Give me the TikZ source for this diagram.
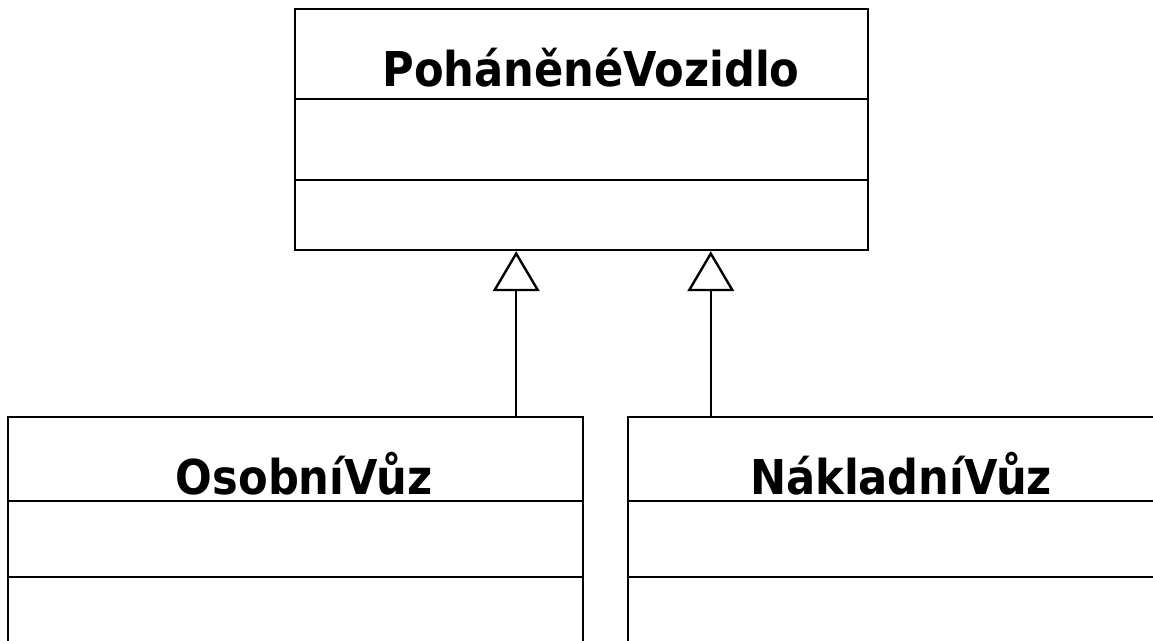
\documentclass[tikz,border=0pt]{standalone}
\usepackage{fontspec}
\setmainfont{DejaVu Sans Condensed}
\usetikzlibrary{arrows.meta,calc}

\tikzset{
  classbox/.style={draw, line width=1.8pt, inner sep=0pt},
  divider/.style={line width=1.8pt},
  classname/.style={font=\bfseries\fontsize{36}{40}\selectfont, anchor=base, inner sep=0pt},
  inherits/.style={line width=1.8pt, -{Triangle[length=30pt, width=35pt, fill=white]}},
}

\begin{document}
\begin{tikzpicture}[x=0.75pt, y=-0.75pt]
  \clip (0,0) rectangle (1153,641);
  % superclass
  \node[classbox, minimum width=429.75pt, minimum height=180.75pt] (vozidlo) at (581.5,129.5) {};
  \node[classname] (vozidloname) at (591,87) {PoháněnéVozidlo};
  \draw[divider] ($(vozidlo.north west)+(0,91)$) -- ($(vozidlo.north east)+(0,91)$);
  \draw[divider] ($(vozidlo.north west)+(0,172)$) -- ($(vozidlo.north east)+(0,172)$);
  % subclasses
  \node[classbox, minimum width=431.25pt, minimum height=180.75pt] (osobni) at (295.5,537.5) {};
  \node[classname] (osobniname) at (304,494) {OsobníVůz};
  \draw[divider] ($(osobni.north west)+(0,85)$) -- ($(osobni.north east)+(0,85)$);
  \draw[divider] ($(osobni.north west)+(0,161)$) -- ($(osobni.north east)+(0,161)$);
  \node[classbox, minimum width=409.5pt, minimum height=180.75pt] (nakladni) at (901,537.5) {};
  \node[classname] (nakladniname) at (901,494) {NákladníVůz};
  \draw[divider] ($(nakladni.north west)+(0,85)$) -- ($(nakladni.north east)+(0,85)$);
  \draw[divider] ($(nakladni.north west)+(0,161)$) -- ($(nakladni.north east)+(0,161)$);
  % generalisation
  \draw[inherits] ($(osobni.north east)+(-68,0)$) coordinate (osobnijoin) -- (osobnijoin |- vozidlo.south);
  \draw[inherits] ($(nakladni.north west)+(84,0)$) coordinate (nakladnijoin) -- (nakladnijoin |- vozidlo.south);
\end{tikzpicture}
\end{document}
